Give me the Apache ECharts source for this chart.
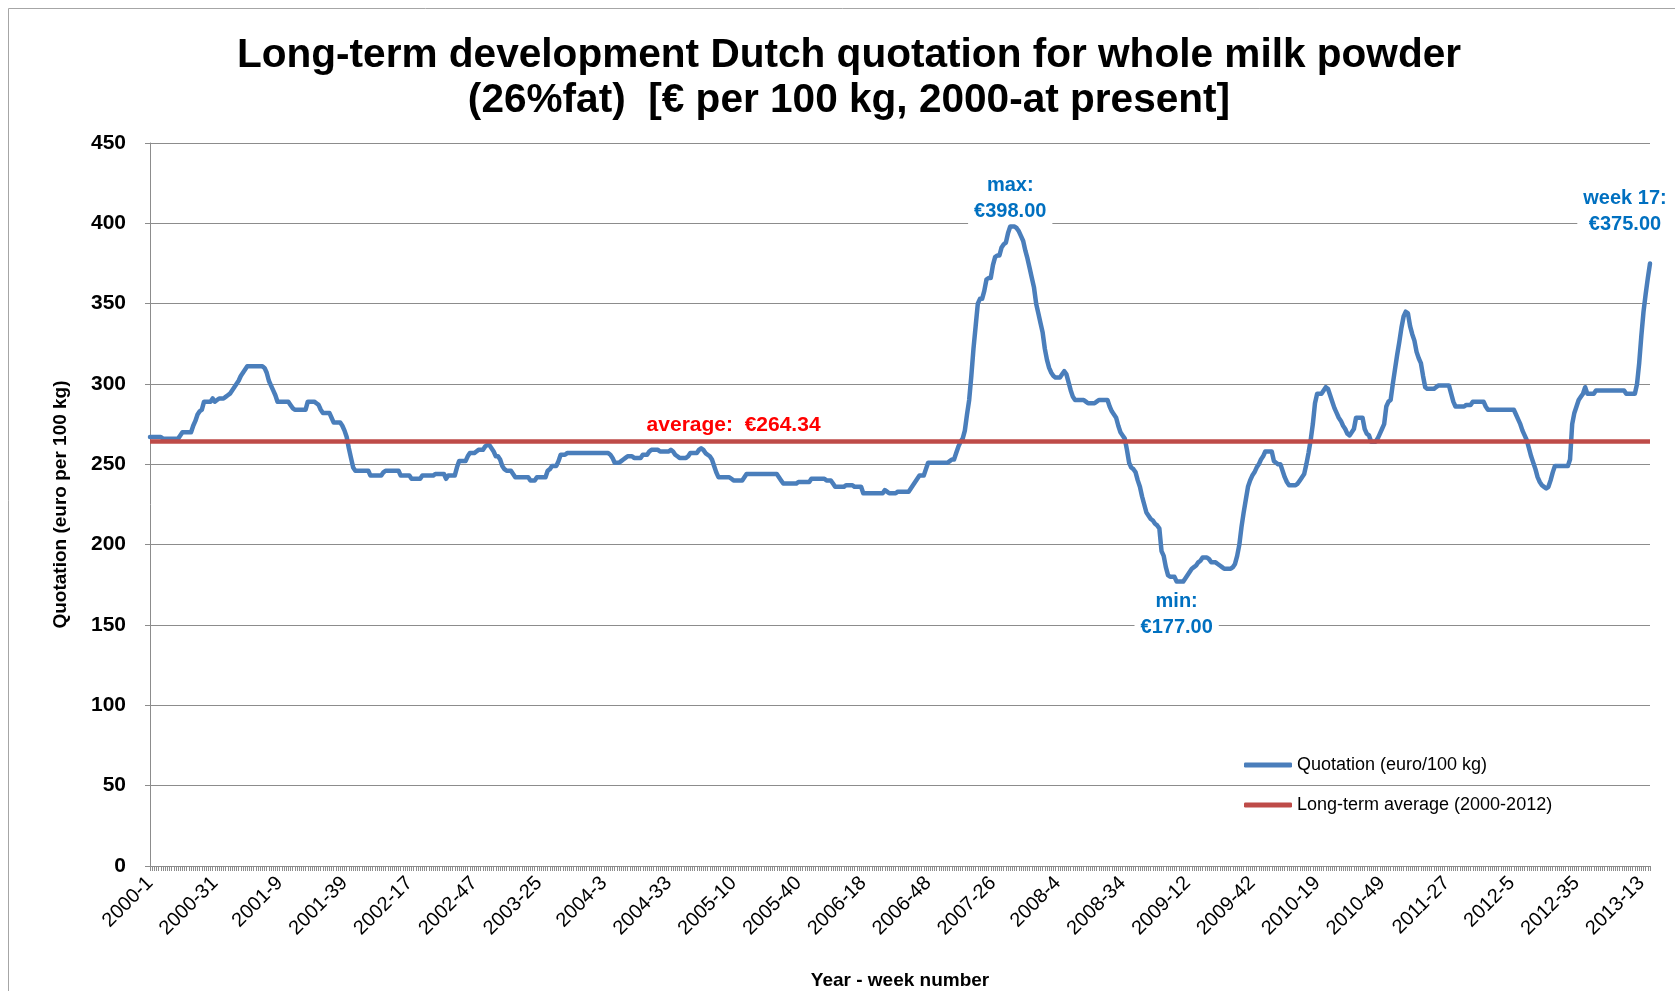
<!DOCTYPE html>
<html><head><meta charset="utf-8">
<script src="https://cdn.jsdelivr.net/npm/echarts@6/dist/echarts.min.js"></script>
<style>html,body{margin:0;padding:0;background:#fff}#c{width:1675px;height:991px}</style>
</head><body><div id="c"></div>
<script>
// ---- data (euro per 100 kg, weekly) ----
const years = [2000,2001,2002,2003,2004,2005,2006,2007,2008,2009,2010,2011,2012,2013];
const weeksPerYear = [52,52,52,52,53,52,52,52,52,53,52,52,52,17];

const q2000 = [267,267,267,267,267,267,266,266,266,266,266,266,266,266,268,270,270,270,270,270,274,277,281,283,284,289,289,289,289,291,289,290,291,291,291,292,293,294,296,298,300,302,305,307,309,311,311,311,311,311,311,311];
const q2001 = [311,310,307,302,299,296,293,289,289,289,289,289,289,287,285,284,284,284,284,284,284,289,289,289,289,288,287,284,282,282,282,282,279,276,276,276,276,274,271,267,260,254,248,246,246,246,246,246,246,246,243,243];
const q2002 = [243,243,243,243,245,246,246,246,246,246,246,246,243,243,243,243,243,241,241,241,241,241,243,243,243,243,243,243,244,244,244,244,244,241,243,243,243,243,248,252,252,252,252,255,257,257,257,258,259,259,259,261];
const q2003 = [262,262,260,258,255,255,253,249,247,246,246,246,244,242,242,242,242,242,242,242,240,240,240,242,242,242,242,242,246,247,249,249,249,252,256,256,256,257,257,257,257,257,257,257,257,257,257,257,257,257,257,257];
const q2004 = [257,257,257,257,257,256,254,251,251,251,252,253,254,255,255,255,254,254,254,254,256,256,256,258,259,259,259,259,258,258,258,258,258,259,258,256,255,254,254,254,254,255,257,257,257,257,259,260,259,257,256,255,253];
const q2005 = [249,245,242,242,242,242,242,242,241,240,240,240,240,240,242,244,244,244,244,244,244,244,244,244,244,244,244,244,244,244,242,240,238,238,238,238,238,238,238,239,239,239,239,239,239,241,241,241,241,241,241,241];
const q2006 = [240,240,240,238,236,236,236,236,236,237,237,237,237,236,236,236,236,232,232,232,232,232,232,232,232,232,232,234,233,232,232,232,232,233,233,233,233,233,233,235,237,239,241,243,243,243,247,251,251,251,251,251];
const q2007 = [251,251,251,251,251,252,253,253,257,261,264,266,271,281,290,305,322,336,350,353,353,358,365,366,366,374,379,380,380,385,387,388,394,398,398,398,397,395,392,389,383,378,372,366,360,350,344,338,332,322,315,310];
const q2008 = [307,305,304,304,304,306,308,306,301,296,292,290,290,290,290,290,289,288,288,288,288,289,290,290,290,290,290,286,283,281,279,274,270,268,266,259,251,248,247,245,240,236,230,225,220,218,216,215,213,212,210,196];
const q2009 = [193,186,181,180,180,180,177,177,177,177,179,181,183,185,186,187,189,190,192,192,192,191,189,189,189,188,187,186,185,185,185,185,186,188,193,200,211,220,228,236,240,243,245,248,250,253,255,258,258,258,258,252,251];
const q2010 = [250,250,246,242,239,237,237,237,237,238,240,242,244,250,257,265,275,288,294,294,294,296,298,297,293,289,285,282,279,277,274,272,269,268,270,272,279,279,279,279,272,269,268,264,264,264,266,269,272,275,286,289];
const q2011 = [290,300,309,318,326,335,342,345,344,336,331,327,320,316,313,305,298,297,297,297,297,298,299,299,299,299,299,299,294,289,286,286,286,286,286,287,287,287,289,289,289,289,289,289,286,284,284,284,284,284,284,284];
const q2012 = [284,284,284,284,284,284,281,278,275,271,268,265,260,255,251,247,242,239,237,236,235,236,240,245,249,249,249,249,249,249,249,253,275,282,286,290,292,294,298,294,294,294,294,296,296,296,296,296,296,296,296,296];
const q2013 = [296,296,296,296,296,294,294,294,294,294,300,313,330,345,356,366,375];

const AVERAGE = 264.34;
const seriesNames = ['Quotation (euro/100 kg)', 'Long-term average (2000-2012)'];
const titleLines = ['Long-term development Dutch quotation for whole milk powder', '(26%fat)  [€ per 100 kg, 2000-at present]'];

// ---- build ----
const categories = [];
years.forEach((y, k) => { for (let w = 1; w <= weeksPerYear[k]; w++) categories.push(y + '-' + w); });
const quotation = [].concat(q2000,q2001,q2002,q2003,q2004,q2005,q2006,q2007,q2008,q2009,q2010,q2011,q2012,q2013);
const last = quotation.length - 1;

const FONT = '"Liberation Sans", Arial, sans-serif';
const BLUE = '#4A7EBB', RED = '#BE4B48', GRID = '#8C8C8C';
const annBlue = {color:'#0070C0', fontSize:20, fontWeight:'bold', lineHeight:26, backgroundColor:'#fff', padding:[0,6], fontFamily:FONT, align:'center'};

const chart = echarts.init(document.getElementById('c'), null, {renderer:'canvas'});
chart.setOption({
  backgroundColor:'#fff',
  animation:false,
  textStyle:{fontFamily:FONT},
  title:{
    text: titleLines.join('\n'),
    left: 844, top: 28, textAlign:'center',
    textStyle:{fontSize:40.6, fontWeight:'bold', lineHeight:45, color:'#000', fontFamily:FONT}
  },
  graphic:[{type:'rect', silent:true, z:-1, shape:{x:8.5, y:8.5, width:1800, height:1200}, style:{fill:'none', stroke:'#A6A6A6', lineWidth:1}}],
  grid:{left:150, right:25, top:143, bottom:125, containLabel:false, outerBoundsMode:'none'},
  legend:{
    orient:'vertical', left:1239, top:751, itemWidth:48, itemHeight:5, itemGap:22,
    icon:'roundRect',
    textStyle:{fontSize:18, color:'#000', fontFamily:FONT},
    data: seriesNames
  },
  xAxis:{
    type:'category', data:categories, boundaryGap:false,
    name:'Year - week number', nameLocation:'middle', nameGap:105,
    nameTextStyle:{fontSize:19, fontWeight:'bold', color:'#000'},
    axisLine:{lineStyle:{color:GRID, width:1}},
    axisTick:{show:true, interval:0, length:5, lineStyle:{color:GRID}},
    axisLabel:{interval:29, rotate:45, fontSize:20, color:'#000', margin:14},
    splitLine:{show:false}
  },
  yAxis:{
    type:'value', min:0, max:450, interval:50,
    name:'Quotation (euro per 100 kg)', nameLocation:'middle', nameGap:80,
    nameTextStyle:{fontSize:19, fontWeight:'bold', color:'#000'},
    axisLine:{show:true, lineStyle:{color:GRID}},
    axisTick:{show:true, length:5, lineStyle:{color:GRID}},
    axisLabel:{fontSize:21, fontWeight:'bold', color:'#000', margin:24},
    splitLine:{lineStyle:{color:GRID, width:1}}
  },
  series:[
    {
      name: seriesNames[0], type:'line', data: quotation, symbol:'none', showSymbol:false, z:4,
      color: BLUE,
      lineStyle:{color:BLUE, width:4.5, join:'round', cap:'round'},
      markPoint:{
        silent:true, symbol:'circle', symbolSize:1, itemStyle:{color:'rgba(0,0,0,0)'},
        data:[
          {type:'max', label:Object.assign({show:true, position:'top', distance:2, formatter:p => 'max:\n€' + p.value.toFixed(2)}, annBlue)},
          {type:'min', label:Object.assign({show:true, position:'bottom', distance:6, formatter:p => 'min:\n€' + p.value.toFixed(2)}, annBlue)},
          {coord:[categories[last], quotation[last]], value:quotation[last], label:Object.assign({show:true, position:'top', distance:26, offset:[-25,0], formatter:p => 'week ' + weeksPerYear[weeksPerYear.length-1] + ':\n€' + p.value.toFixed(2)}, annBlue)},
          {coord:[categories[270], AVERAGE], value:AVERAGE, label:{show:true, position:'top', distance:5, color:'#FF0000', fontSize:21, fontWeight:'bold', fontFamily:FONT, formatter:p => 'average:  €' + p.value.toFixed(2)}}
        ]
      }
    },
    {
      name: seriesNames[1], type:'line', data: [], symbol:'none', z:3,
      color: RED,
      lineStyle:{color:RED, width:4.5},
      markLine:{
        silent:true, symbol:['none','none'], label:{show:false},
        lineStyle:{color:RED, width:4.5, type:'solid'},
        emphasis:{disabled:true},
        data:[{yAxis:AVERAGE}]
      }
    }
  ]
});
</script>
</body></html>
